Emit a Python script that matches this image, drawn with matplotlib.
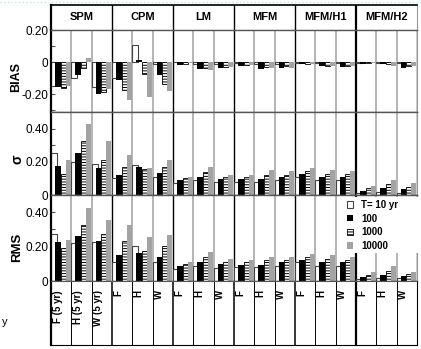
import matplotlib
matplotlib.use("Agg")
import matplotlib.pyplot as plt
from matplotlib.patches import Patch, Rectangle
from matplotlib.lines import Line2D
import numpy as np

plt.rcParams["font.family"] = ["Liberation Sans", "DejaVu Sans"]
plt.rcParams["hatch.linewidth"] = 0.7

groups = ["SPM", "CPM", "LM", "MFM", "MFM/H1", "MFM/H2"]
sub_labels = ["F (5 yr)", "H (5 yr)", "W (5 yr)"] + ["F", "H", "W"] * 5
series = ["T= 10 yr", "100", "1000", "10000"]

# values per subgroup: SPM F,H,W, CPM F,H,W, LM ..., MFM ..., MFM/H1 ..., MFM/H2 ...
bias_t10 = [-0.15, -0.10, -0.152, -0.10, 0.11, -0.01, 0.005, -0.01, -0.01,
            -0.005, -0.01, -0.01, -0.005, -0.005, -0.005, -0.003, -0.003, -0.005]
bias_t100 = [-0.154, -0.081, -0.196, -0.112, 0.017, -0.081, -0.019, -0.04, -0.033,
             -0.025, -0.04, -0.033, -0.0125, -0.025, -0.03, -0.008, -0.01, -0.033]
bias_t1000 = [-0.16, -0.035, -0.185, -0.171, -0.071, -0.133, -0.008, -0.035, -0.03,
              -0.015, -0.03, -0.025, -0.0125, -0.02, -0.025, -0.005, -0.012, -0.025]
bias_t10000 = [-0.146, 0.029, -0.167, -0.238, -0.217, -0.181, -0.005, -0.05, -0.028,
               -0.015, -0.035, -0.035, -0.01, -0.02, -0.025, -0.005, -0.02, -0.02]

sigma_t10 = [0.251, 0.20, 0.185, 0.10, 0.179, 0.111, 0.07, 0.09, 0.08,
             0.08, 0.08, 0.09, 0.11, 0.09, 0.09, 0.01, 0.02, 0.015]
sigma_t100 = [0.175, 0.255, 0.163, 0.121, 0.169, 0.132, 0.091, 0.111, 0.097,
              0.097, 0.097, 0.107, 0.128, 0.107, 0.107, 0.025, 0.041, 0.035]
sigma_t1000 = [0.128, 0.327, 0.21, 0.169, 0.154, 0.169, 0.103, 0.138, 0.111,
               0.111, 0.123, 0.123, 0.146, 0.128, 0.128, 0.041, 0.066, 0.049]
sigma_t10000 = [0.21, 0.43, 0.323, 0.241, 0.165, 0.21, 0.111, 0.169, 0.123,
                0.123, 0.148, 0.144, 0.16, 0.152, 0.144, 0.056, 0.091, 0.07]

rms_t10 = [0.273, 0.219, 0.229, 0.109, 0.202, 0.109, 0.07, 0.09, 0.076,
           0.08, 0.08, 0.09, 0.11, 0.09, 0.09, 0.01, 0.02, 0.015]
rms_t100 = [0.225, 0.26, 0.234, 0.151, 0.161, 0.141, 0.085, 0.112, 0.099,
            0.093, 0.093, 0.112, 0.124, 0.109, 0.112, 0.021, 0.035, 0.027]
rms_t1000 = [0.192, 0.326, 0.273, 0.231, 0.176, 0.202, 0.097, 0.138, 0.112,
             0.112, 0.122, 0.124, 0.138, 0.128, 0.124, 0.035, 0.06, 0.041]
rms_t10000 = [0.24, 0.422, 0.355, 0.326, 0.254, 0.267, 0.109, 0.167, 0.128,
              0.124, 0.141, 0.138, 0.157, 0.151, 0.138, 0.054, 0.085, 0.054]

W, H = 421, 349


def box(x0, y0, x1, y1):
    return [x0 / W, 1 - y1 / H, (x1 - x0) / W, (y1 - y0) / H]


fig = plt.figure(figsize=(W / 100, H / 100), dpi=100)
L, R = 51, 417
ax_head = fig.add_axes(box(L, 5, R, 29.5))
ax_bias = fig.add_axes(box(L, 29.5, R, 112))
ax_sig = fig.add_axes(box(L, 112, R, 195))
ax_rms = fig.add_axes(box(L, 195, R, 281))
ax_lab = fig.add_axes(box(L, 281, R, 345))

n = len(sub_labels)
x = np.arange(n)
offsets = [0.0, 0.2, 0.47, 0.72]
widths = [0.3, 0.27, 0.25, 0.25]
styles = [
    dict(facecolor="white", edgecolor="#444444", linewidth=0.8),
    dict(facecolor="black", linewidth=0),
    dict(facecolor="white", edgecolor="black", hatch="------", linewidth=0.6),
    dict(facecolor="#a3a3a3", linewidth=0),
]


def separators(ax, sub_color, sub_lw, grp_lw):
    for k in range(1, n + 1):
        if k % 3 == 0:
            ax.axvline(k, color="black", lw=1.6 if k == 15 else grp_lw, zorder=0.5)
        else:
            ax.axvline(k, color=sub_color, lw=sub_lw, zorder=0.5)


def panel(ax, data, ylim, ticks, labels, minor):
    for vals, off, w, st in zip(data, offsets, widths, styles):
        ax.bar(x + off, vals, width=w, align="edge", zorder=2, **st)
    separators(ax, "#a8a8a8", 1.2, 1.0)
    ax.set_xlim(0, n)
    ax.set_ylim(*ylim)
    ax.set_xticks([])
    ax.set_yticks(ticks)
    ax.set_yticklabels(labels)
    ax.set_yticks(minor, minor=True)
    ax.tick_params(axis="y", which="both", direction="in", length=3, width=0.8,
                   color="#555555", labelsize=8.5, pad=2)
    ax.spines["left"].set_color("black")
    ax.spines["left"].set_linewidth(1.6)
    for s in ["top", "bottom"]:
        ax.spines[s].set_color("#555555")
        ax.spines[s].set_linewidth(1.0)
    ax.spines["right"].set_color("#999999")


panel(ax_bias, [bias_t10, bias_t100, bias_t1000, bias_t10000], (-0.31, 0.205),
      [0.2, 0, -0.2], ["0.20", "0", "-0.20"], [-0.3, -0.1, 0.1])
panel(ax_sig, [sigma_t10, sigma_t100, sigma_t1000, sigma_t10000], (0, 0.5),
      [0, 0.2, 0.4], ["0", "0.20", "0.40"], [0.1, 0.3])
panel(ax_rms, [rms_t10, rms_t100, rms_t1000, rms_t10000], (0, 0.5),
      [0, 0.2, 0.4], ["0", "0.20", "0.40"], [0.1, 0.3])

# header row
ax_head.set_xlim(0, n)
ax_head.set_ylim(0, 1)
ax_head.set_xticks([])
ax_head.set_yticks([])
for g, name in enumerate(groups):
    ax_head.text(g * 3 + 1.5, 0.5, name, ha="center", va="center",
                 fontsize=8, weight="bold")
    if g > 0:
        ax_head.axvline(g * 3, color="black", lw=1.6 if g == 5 else 1.0)
ax_head.spines["top"].set_linewidth(1.2)
ax_head.spines["left"].set_linewidth(1.6)
ax_head.spines["bottom"].set_color("#555555")
ax_head.spines["right"].set_color("#999999")

# label row
ax_lab.set_xlim(0, n)
ax_lab.set_ylim(0, 1)
ax_lab.set_xticks([])
ax_lab.set_yticks([])
for i, lab in enumerate(sub_labels):
    ax_lab.text(i + 0.32, 0.86, lab, rotation=90, ha="center", va="top",
                fontsize=7, weight="bold")
for k in range(1, n):
    ax_lab.axvline(k, color="black", lw=(1.6 if k == 15 else 1.1) if k % 3 == 0 else 0.7)
ax_lab.spines["left"].set_linewidth(1.6)
ax_lab.spines["top"].set_color("#555555")

# legend sits on a white block over the right end of the RMS panel
ax_rms.add_patch(Rectangle(((343 - L) / 366, (281 - 253) / 86), (421 - 343) / 366,
                           (253 - 197) / 86, transform=ax_rms.transAxes,
                           facecolor="white", edgecolor="none", zorder=5, clip_on=False))
handles = [Patch(**styles[0]), Patch(facecolor="black"),
           Patch(facecolor="white", edgecolor="black", hatch="------", linewidth=0.6),
           Patch(facecolor="#a3a3a3")]
leg = ax_rms.legend(handles, series, loc="upper left",
                    bbox_to_anchor=((345 - L) / 366, 1 - (198 - 195) / 86),
                    prop={"size": 7, "weight": "bold"}, frameon=False,
                    handlelength=0.65, handleheight=0.65, handletextpad=0.8,
                    labelspacing=0.38, borderpad=0.2, borderaxespad=0)
leg.set_zorder(10)

fig.text(16 / W, 1 - 77 / H, "BIAS", rotation=90, ha="center", va="center",
         fontsize=9, weight="bold")
fig.text(17 / W, 1 - 159 / H, "σ", rotation=90, ha="center", va="center",
         fontsize=10, weight="bold")
fig.text(17 / W, 1 - 247 / H, "RMS", rotation=90, ha="center", va="center",
         fontsize=9.5, weight="bold")
fig.text(5 / W, 1 - 322 / H, "y", ha="center", va="center", fontsize=8)
fig.add_artist(Line2D([0, 1], [1 - 1.5 / H] * 2, color="#bfe6e6", ls=":", lw=1))

fig.savefig("out.png", dpi=100)
